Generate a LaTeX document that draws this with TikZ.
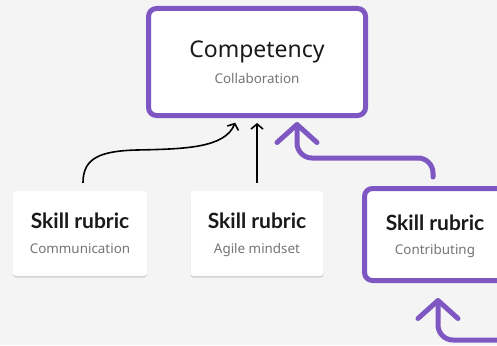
\documentclass[tikz,border=0pt]{standalone}
\usepackage{fontspec}
\setmainfont{Noto Sans}
\newfontfamily\headfont{Lato}
\usetikzlibrary{arrows.meta,shadows,calc}
\definecolor{bg}{HTML}{F4F4F4}
\definecolor{accent}{HTML}{7E57C2}
\definecolor{ink}{HTML}{1A1A1A}
\definecolor{muted}{HTML}{757575}
\begin{document}
\begin{tikzpicture}[x=1pt,y=-1pt,
  card/.style={fill=white, rounded corners=3pt, inner sep=0pt,
    drop shadow={shadow xshift=0pt,shadow yshift=-1.5pt,opacity=0.3}},
  focus/.style={draw=accent, line width=5pt, fill=white, rounded corners=8pt, inner sep=0pt},
  bigtitle/.style={anchor=base, text=ink, inner sep=0pt, font=\fontsize{23}{26}\selectfont},
  headline/.style={anchor=base, text=ink, inner sep=0pt, font=\headfont\fontsize{21}{23}\selectfont\bfseries},
  caption/.style={anchor=base, text=muted, inner sep=0pt, font=\fontsize{13.4}{15}\selectfont},
  link/.style={draw=black, line width=1.6pt, -{Straight Barb[length=5pt,width=12pt]}},
  trail/.style={draw=accent, line width=5pt, rounded corners=15pt, line cap=round,
    -{Straight Barb[length=18pt,width=40pt,round]}}]
\fill[bg] (0,0) rectangle (497,345);
\useasboundingbox (0,0) rectangle (497,345);
\clip (0,0) rectangle (497,345);

% boxes
\node[focus, minimum width=217pt, minimum height=107pt] (comp) at (257,62) {};
\node[card, minimum width=134pt, minimum height=85pt] (comm) at (80,233.5) {};
\node[card, minimum width=133pt, minimum height=85pt] (agile) at (257,233.5) {};
\node[focus, minimum width=141pt, minimum height=92pt] (contrib) at (435,234.5) {};

% texts
\node[bigtitle] (compT) at ($(comp.center)+(0,-5)$) {Competency};
\node[caption] (compS) at ($(comp.center)+(0,21)$) {Collaboration};
\node[headline] (commT) at ($(comm.center)+(0,-5.5)$) {Skill rubric};
\node[caption] (commS) at ($(comm.center)+(0,19.5)$) {Communication};
\node[headline] (agileT) at ($(agile.center)+(0,-5.5)$) {Skill rubric};
\node[caption] (agileS) at ($(agile.center)+(0,19.5)$) {Agile mindset};
\node[headline] (contribT) at ($(contrib.center)+(0,-4.5)$) {Skill rubric};
\node[caption] (contribS) at ($(contrib.center)+(0,19.5)$) {Contributing};

% connectors
\coordinate (bend) at (137,150);
\draw[link, shorten <=8pt, shorten >=5pt] ([xshift=3pt]comm.north)
  .. controls (83,158) and (100,151) .. (bend)
  .. controls (185,149) and (225,148) .. ([xshift=-20pt]comp.south);
\draw[link, shorten <=8pt, shorten >=5pt] (agile.north) -- (comp.south);
\draw[trail, shorten <=9pt, shorten >=4pt] ([xshift=-2pt]contrib.north)
  |- ($(comp.south)+(40,40)$) -- ([xshift=40pt]comp.south);
\coordinate (feed) at (530,340);
\draw[trail, shorten >=15pt] (feed) -| ([xshift=3pt]contrib.south);
\end{tikzpicture}
\end{document}
